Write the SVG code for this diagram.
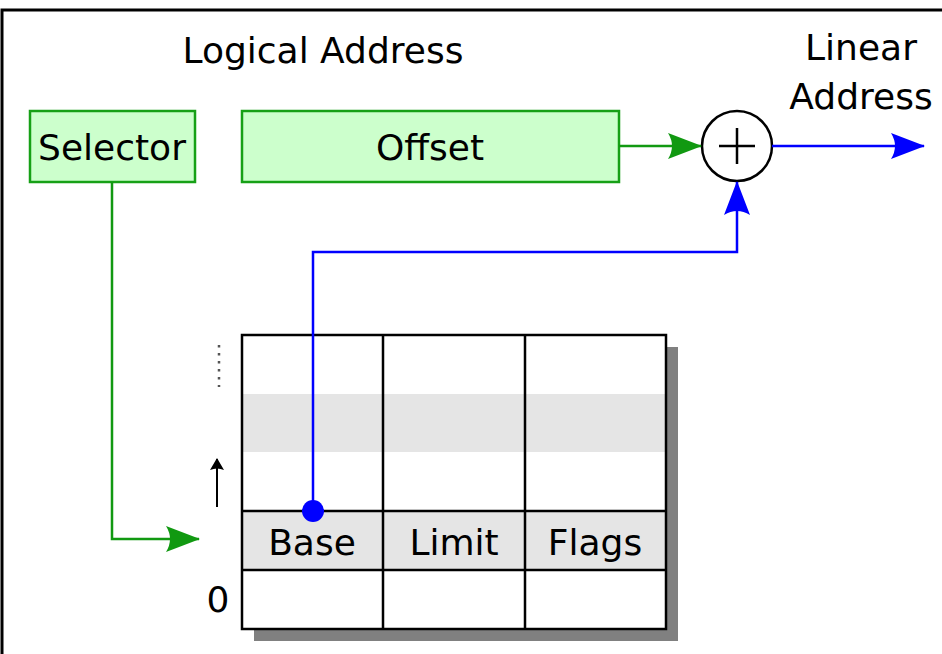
<svg xmlns="http://www.w3.org/2000/svg" width="942" height="654" viewBox="0 0 942 654">
  <style>
    text { font-family: "DejaVu Sans", "Liberation Sans", sans-serif; font-size: 36px; fill: #000; }
    .mid { text-anchor: middle; }
    .box { fill: #ccffcc; stroke: #16a016; stroke-width: 2.5; }
    .grn { fill: none; stroke: #119911; stroke-width: 2.5; }
    .blu { fill: none; stroke: #0000ff; stroke-width: 2.5; }
    .grid { fill: none; stroke: #000; stroke-width: 2.5; }
  </style>
  <defs>
    <marker id="ah-green" viewBox="0 0 34 26" refX="33" refY="13" markerWidth="34" markerHeight="26" markerUnits="userSpaceOnUse" orient="auto">
      <path d="M0,0 L34,13 L0,26 Q8,13 0,0 Z" fill="#119911"/>
    </marker>
    <marker id="ah-blue" viewBox="0 0 34 26" refX="33" refY="13" markerWidth="34" markerHeight="26" markerUnits="userSpaceOnUse" orient="auto">
      <path d="M0,0 L34,13 L0,26 Q8,13 0,0 Z" fill="#0000ff"/>
    </marker>
    <marker id="ah-black" viewBox="0 0 12 14" refX="11" refY="7" markerWidth="12" markerHeight="14" markerUnits="userSpaceOnUse" orient="auto">
      <path d="M0,0 L12,7 L0,14 Q3,7 0,0 Z" fill="#000"/>
    </marker>
  </defs>

  <rect width="942" height="654" fill="#fff"/>
  <!-- frame: top and left edges -->
  <path d="M2,654 V10 H942" fill="none" stroke="#000" stroke-width="3"/>

  <text class="mid" x="323" y="63">Logical Address</text>
  <text class="mid" x="861" y="60">Linear</text>
  <text class="mid" x="861" y="109">Address</text>

  <g id="selector">
    <rect class="box" x="30" y="111" width="165" height="71"/>
    <text class="mid" x="112" y="160">Selector</text>
  </g>

  <g id="offset">
    <rect class="box" x="242" y="111" width="377" height="71"/>
    <text class="mid" x="430" y="160">Offset</text>
  </g>

  <g id="adder">
    <circle cx="737" cy="146" r="35" fill="#fff" stroke="#000" stroke-width="2.5"/>
    <path d="M719,146 H755 M737,128 V164" stroke="#000" stroke-width="2.5"/>
  </g>

  <g id="descriptor-table">
    <!-- drop shadow -->
    <rect x="254" y="347" width="424" height="294" fill="#808080"/>
    <rect x="242" y="335" width="424" height="294" fill="#fff"/>
    <rect x="243" y="394" width="422" height="58" fill="#e5e5e5"/>
    <rect x="242" y="511" width="424" height="59" fill="#e5e5e5"/>
    <rect class="grid" x="242" y="335" width="424" height="294"/>
    <path class="grid" d="M383,335 V629 M525,335 V629 M242,511 H666 M242,570 H666"/>
    <text class="mid" x="312" y="555">Base</text>
    <text class="mid" x="454" y="555">Limit</text>
    <text class="mid" x="595" y="555">Flags</text>
    <text class="mid" x="218" y="612">0</text>
    <!-- upward index marker and continuation dots -->
    <line x1="219" y1="345" x2="219" y2="387" stroke="#555" stroke-width="2.5" stroke-dasharray="2.5,5.5"/>
    <line x1="217" y1="507" x2="217" y2="459" stroke="#000" stroke-width="2" marker-end="url(#ah-black)"/>
  </g>

  <g id="connectors">
    <path class="grn" d="M112,182 V539 H199" marker-end="url(#ah-green)"/>
    <path class="grn" d="M619,146 H701" marker-end="url(#ah-green)"/>
    <path class="blu" d="M313,511 V252 H737 V182" marker-end="url(#ah-blue)"/>
    <path class="blu" d="M772,146 H924" marker-end="url(#ah-blue)"/>
    <circle cx="313" cy="511" r="11" fill="#0000ff"/>
  </g>
</svg>
